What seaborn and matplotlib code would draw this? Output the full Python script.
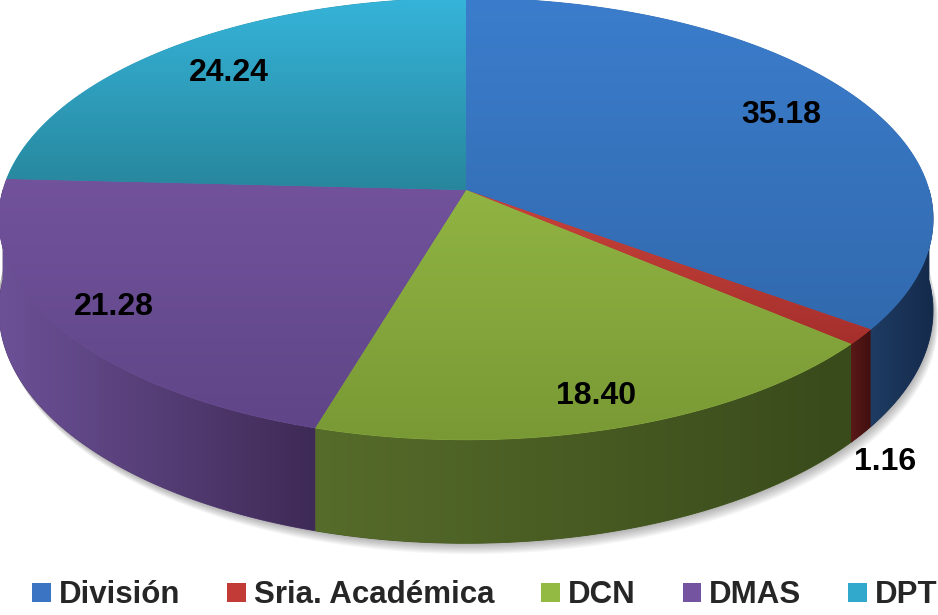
import numpy as np
import matplotlib
matplotlib.use("Agg")
import matplotlib.pyplot as plt
from matplotlib.patches import Polygon, Patch
from matplotlib.colors import to_rgb
import seaborn as sns

# ---- data ----
categories = ["División", "Sria. Académica", "DCN", "DMAS", "DPT"]
values = [35.18, 1.16, 18.40, 21.28, 24.24]
labels = ["35.18", "1.16", "18.40", "21.28", "24.24"]

# ---- styles ----
top_colors = [("#3b7dcc", "#2e62a3"), ("#c9433b", "#a52f2c"), ("#a2c84e", "#789834"),
              ("#7e5caa", "#5e4486"), ("#36b4da", "#27869c")]
side_colors = [("#1f3c63", "#142a4b"), ("#5c1a18", "#3e0f0f"), ("#566c2a", "#394a1b"),
               ("#6c5197", "#3e2a55"), ("#2a8ca8", "#1f6f86")]
legend_colors = ["#3a74c2", "#c23b36", "#93ba42", "#7453a0", "#31a9cc"]
label_frac = [0.8, None, 0.88, 0.87, 0.8]

sns.set_theme(style="white")
plt.rcParams["font.family"] = ["Liberation Sans", "DejaVu Sans"]

W, H = 938, 615
fig = plt.figure(figsize=(W / 100, H / 100), dpi=100)
ax = fig.add_axes([0, 0, 1, 1])
ax.set_axis_off()

cx, cy, R, RY, P, D = 466.0, 190.0, 463.0, 217.0, 0.131, 90.0


def proj(theta, f=1.0):
    t = np.radians(theta)
    X = np.sin(t) * f
    Z = np.cos(t) * f
    s = 1.0 / (1.0 + P * Z)
    return cx + R * X * s, cy - RY * Z * s, s


def grad_fill(verts, c1, c2, vertical=True, z=2, span=None):
    verts = np.asarray(verts)
    poly = Polygon(verts, closed=True, facecolor="none", edgecolor="none")
    ax.add_patch(poly)
    xmin, ymin = verts.min(axis=0)
    xmax, ymax = verts.max(axis=0)
    if span is not None:
        ymin, ymax = span
    n = 256
    t = np.linspace(0, 1, n)[:, None]
    a, b = np.array(to_rgb(c1)), np.array(to_rgb(c2))
    cols = a[None, :] * (1 - t) + b[None, :] * t
    if vertical:
        arr = cols[:, None, :].repeat(2, axis=1)
    else:
        arr = cols[None, :, :].repeat(2, axis=0)
    im = ax.imshow(arr, extent=(xmin - 1, xmax + 1, ymax + 1, ymin - 1), origin="upper",
                   aspect="auto", zorder=z, interpolation="bilinear")
    im.set_clip_path(poly)
    mid = tuple((a + b) / 2)
    ax.add_patch(Polygon(verts, closed=True, facecolor=mid, edgecolor=mid, lw=0.6, zorder=z - 0.5))


total = sum(values)
bounds = np.concatenate([[0], np.cumsum(values) / total * 360.0])

# soft shadow under the pie
th = np.linspace(90, 270, 200)
for k in range(10):
    pts = []
    for t in th:
        x, y, s = proj(t)
        pts.append((x + k * 0.6, y + D * s + k * 1.2))
    for t in th[::-1]:
        x, y, s = proj(t)
        pts.append((x, y + D * s - 10))
    ax.add_patch(Polygon(pts, closed=True, facecolor="#000000", alpha=0.035,
                         edgecolor="none", zorder=0.5))

# side walls (front half only)
for i in range(len(values)):
    a1, a2 = bounds[i], bounds[i + 1]
    lo, hi = max(a1, 90.0), min(a2, 270.0)
    if hi <= lo:
        continue
    th = np.linspace(lo, hi, 120)
    top = [proj(t)[:2] for t in th]
    bot = [(proj(t)[0], proj(t)[1] + D * proj(t)[2]) for t in th[::-1]]
    grad_fill(top + bot, side_colors[i][0], side_colors[i][1], vertical=False, z=2)

# top faces
for i in range(len(values)):
    a1, a2 = bounds[i], bounds[i + 1]
    th = np.linspace(a1, a2, max(int((a2 - a1) * 2), 4))
    verts = [(cx, cy)] + [proj(t)[:2] for t in th]
    grad_fill(verts, top_colors[i][0], top_colors[i][1], vertical=True, z=3,
              span=(0, 450) if i in (0, 2, 3) else None)

# labels
for i in range(len(values)):
    mid = (bounds[i] + bounds[i + 1]) / 2
    if label_frac[i] is not None:
        x, y, _ = proj(mid, label_frac[i])
    else:
        x, y, s = proj(mid)
        x, y = x + 24, y + D * s + 27
    ax.text(x, y, labels[i], ha="center", va="center", fontsize=23,
            fontweight="bold", color="#000000", zorder=6)

ax.set_xlim(0, W)
ax.set_ylim(H, 0)

handles = [Patch(facecolor=c, edgecolor="none") for c in legend_colors]
fig.legend(handles, categories, loc="lower center", bbox_to_anchor=(0.517, -0.018), ncol=5,
           frameon=False, prop={"weight": "bold", "size": 22.5, "family": "Liberation Sans"},
           handlelength=0.6, handleheight=0.6, handletextpad=0.25, columnspacing=1.5,
           borderaxespad=0.1)

fig.savefig("out.png", dpi=100, facecolor="white")
